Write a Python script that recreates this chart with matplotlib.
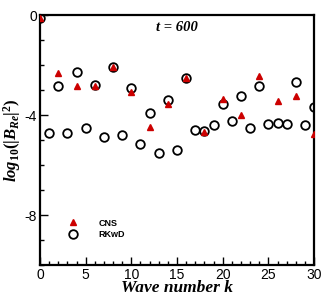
import numpy as np
import matplotlib.pyplot as plt
from matplotlib.ticker import MultipleLocator

# wave numbers and log10 energies
k_rkwd = list(range(31))
e_rkwd = [-0.13, -4.71, -2.84, -4.71, -2.29, -4.52, -2.79, -4.87, -2.07, -4.80,
          -2.91, -5.16, -3.92, -5.51, -3.39, -5.39, -2.53, -4.61, -4.65, -4.41,
          -3.57, -4.23, -3.23, -4.52, -2.85, -4.35, -4.33, -4.36, -2.68, -4.40,
          -3.68]

k_cns = list(range(0, 31, 2))
e_cns = [-0.13, -2.31, -2.84, -2.83, -2.09, -3.07, -4.49, -3.55, -2.53, -4.67,
         -3.37, -4.00, -2.45, -3.43, -3.25, -4.76]

serif = 'Liberation Serif'
sans = 'Liberation Sans'

plt.rcParams['mathtext.fontset'] = 'custom'
plt.rcParams['mathtext.it'] = 'Liberation Serif:bold:italic'
plt.rcParams['mathtext.rm'] = 'Liberation Serif:bold'
plt.rcParams['mathtext.bf'] = 'Liberation Serif:bold'

fig = plt.figure(figsize=(3.32, 2.96), dpi=100)
ax = fig.add_axes([0.1205, 0.1047, 0.8255, 0.8443])

ax.plot(k_cns, e_cns, linestyle='none', marker='^', ms=4.5,
        color='#cc0000', label='CNS', zorder=3)
ax.plot(k_rkwd, e_rkwd, linestyle='none', marker='o', ms=6.2,
        mfc='none', mec='black', mew=1.3, label='RKwD', zorder=2)

ax.set_xlim(0, 30)
ax.set_ylim(-10, 0)
ax.xaxis.set_major_locator(MultipleLocator(5))
ax.xaxis.set_minor_locator(MultipleLocator(1))
ax.yaxis.set_minor_locator(MultipleLocator(1))
ax.set_yticks([0, -4, -8])
ax.set_yticklabels(['0', '-4', '-8'])
ax.tick_params(which='both', direction='in', top=False, right=False,
               labelsize=10, width=1.0)
ax.tick_params(which='major', length=6)
ax.tick_params(which='minor', length=3)
for lab in ax.get_xticklabels() + ax.get_yticklabels():
    lab.set_fontfamily(sans)
for sp in ax.spines.values():
    sp.set_linewidth(1.6)
ax.tick_params(axis='x', pad=2)
ax.tick_params(axis='y', pad=2)

ax.text(0.5, 0.975, 't = 600', transform=ax.transAxes, ha='center', va='top',
        fontfamily=serif, fontweight='bold', fontstyle='italic', fontsize=10.5)

ax.set_xlabel('Wave number k', fontfamily=serif, fontweight='bold',
              fontstyle='italic', fontsize=12.5, labelpad=-1)
ax.set_ylabel(r'$log_{10}(|B_{Re}|^2)$', fontsize=12, labelpad=1)

leg = ax.legend(loc='lower left', bbox_to_anchor=(0.075, 0.09), frameon=False,
                prop={'family': sans, 'weight': 'bold', 'size': 6.5},
                handletextpad=1.8, labelspacing=0.25, borderaxespad=0)

fig.savefig('out.png', dpi=100)
